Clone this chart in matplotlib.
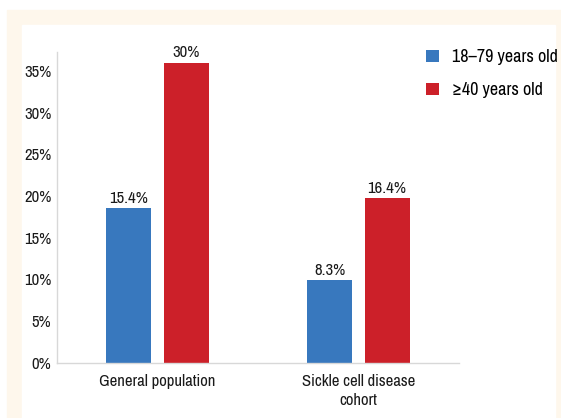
import matplotlib.pyplot as plt
import matplotlib.patches as mpatches
import numpy as np

groups = ['General population', 'Sickle cell disease\ncohort']
series = ['18\u201379 years old', '\u226540 years old']
# bar heights as drawn in the picture (%)
young = [18.5, 9.9]
older = [36.0, 19.7]
# printed labels above the bars
young_lbl = ['15.4%', '8.3%']
older_lbl = ['30%', '16.4%']
yticks = [0, 5, 10, 15, 20, 25, 30, 35]

plt.rcParams['font.family'] = ['Archivo Narrow', 'Roboto Condensed', 'Liberation Sans', 'DejaVu Sans']

blue = '#3878be'
red = '#cc2029'
ink = '#1a1a1a'

fig = plt.figure(figsize=(5.61, 4.18), dpi=100)
W, H = 561, 418

# cream frame and white panel on a background axes
bg = fig.add_axes([0, 0, 1, 1], zorder=-1)
bg.set_xlim(0, W)
bg.set_ylim(H, 0)
bg.axis('off')
bg.add_patch(mpatches.Rectangle((7, 10), 561 - 7, 418 - 10, color='#fef7ec'))
bg.add_patch(mpatches.Rectangle((22, 25), 555 - 22, 418 - 25, color='white'))

ax = fig.add_axes([57 / W, 1 - 362.7 / H, (459 - 57) / W, (362.7 - 51.7) / H])
ax.patch.set_alpha(0)

x = np.arange(len(groups))
w = 0.224
off = 0.142
b1 = ax.bar(x - off, young, w, color=blue, label=series[0], zorder=2)
b2 = ax.bar(x + off, older, w, color=red, label=series[1], zorder=2)

for bars, lbls in ((b1, young_lbl), (b2, older_lbl)):
    for r, t in zip(bars, lbls):
        ax.text(r.get_x() + r.get_width() / 2, r.get_height() + 0.25, t,
                ha='center', va='bottom', fontsize=12, color=ink)

ax.set_xlim(-0.5, 1.5)
ax.set_ylim(0, 37.3)
ax.set_yticks(yticks)
ax.set_yticklabels([f'{v}%' for v in yticks])
ax.set_xticks(x)
ax.set_xticklabels(groups, linespacing=1.35)
ax.tick_params(axis='both', length=0, labelsize=12, colors=ink)
ax.tick_params(axis='y', pad=4)
ax.tick_params(axis='x', pad=8)

for s in ('top', 'right'):
    ax.spines[s].set_visible(False)
for s in ('left', 'bottom'):
    ax.spines[s].set_color('#d8d8d8')
    ax.spines[s].set_linewidth(1)

ax.legend(loc='upper left', bbox_to_anchor=(419 / W, 1 - 42 / H), bbox_transform=fig.transFigure,
          frameon=False, fontsize=13, handlelength=0.7, handleheight=0.7,
          handletextpad=0.75, labelspacing=0.95, borderaxespad=0)

fig.savefig('out.png', dpi=100)
